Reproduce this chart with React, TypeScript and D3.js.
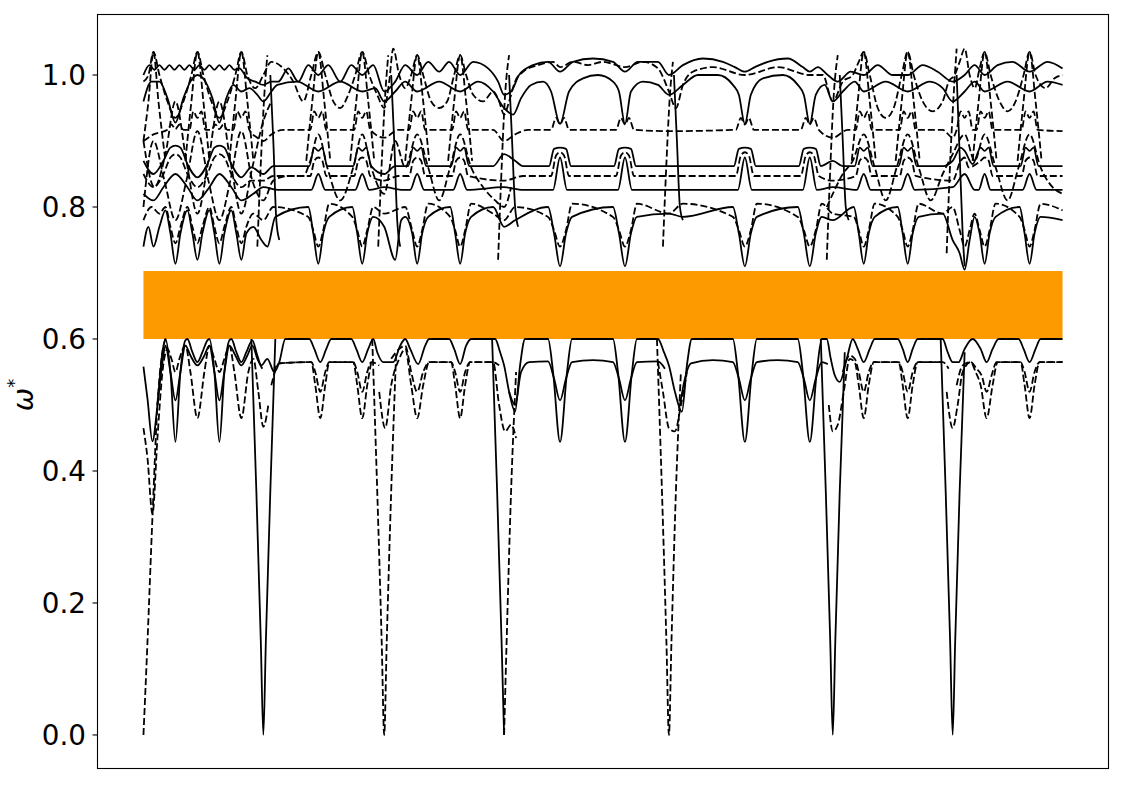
import React from 'react';
import * as d3 from 'd3';

type P = [number, number];

const yTicks = [0, 0.2, 0.4, 0.6, 0.8, 1.0];
const gapBand: [number, number] = [0.6, 0.703];
const pathRange: [number, number] = [0, 920];

// ---------- lower branches ----------
const lowTop: P[] = [
  [0,0.558],[4,0.51],[9,0.445],[14,0.5],[19,0.58],[22,0.6],[27,0.55],[32,0.444],[37,0.55],[42,0.598],[44,0.6],[49,0.58],[54,0.565],[59,0.58],[64,0.598],[66,0.6],[71,0.55],[76,0.444],[81,0.55],[86,0.598],[88,0.6],[93,0.58],[98,0.565],[103,0.58],[109,0.598],[114,0.575],[118,0.56],[124,0.57],[131,0.55],[136,0.565],[142,0.6],[166,0.6],[171,0.585],[177,0.565],[183,0.585],[188,0.6],[208,0.6],[213,0.585],[219,0.565],[225,0.585],[230,0.6],[234,0.58],[240,0.565],[250,0.565],[257,0.59],[262,0.6],[267,0.585],[275,0.562],[282,0.59],[286,0.6],[306,0.6],[311,0.585],[317,0.562],[323,0.59],[328,0.6],[352,0.6],[357,0.58],[361,0.56],[366,0.52],[372,0.49],[377,0.56],[382,0.6],[405,0.6],[410,0.55],[417,0.444],[424,0.55],[429,0.6],[470,0.6],[475,0.55],[482,0.444],[489,0.55],[494,0.6],[515,0.6],[521,0.58],[526,0.56],[532,0.52],[539,0.49],[544,0.56],[549,0.6],[590,0.6],[595,0.55],[602,0.444],[609,0.55],[614,0.6],[655,0.6],[660,0.55],[667,0.444],[674,0.55],[679,0.6],[684,0.6],[688,0.57],[692,0.545],[697,0.535],[704,0.57],[710,0.6],[715,0.585],[721,0.565],[727,0.585],[732,0.6],[755,0.6],[760,0.585],[765,0.565],[770,0.585],[775,0.6],[800,0.6],[805,0.58],[810,0.565],[816,0.565],[822,0.585],[830,0.6],[838,0.585],[844,0.565],[850,0.585],[856,0.6],[876,0.6],[881,0.585],[887,0.565],[893,0.585],[898,0.6],[920,0.6]
];

const lowMidSolid: P[][] = [
  [[14,0.5],[19,0.565],[22,0.59],[27,0.55],[32,0.507],[37,0.55],[42,0.59],[47,0.575],[54,0.56],[61,0.575],[66,0.59],[71,0.55],[76,0.507],[81,0.55],[86,0.59],[92,0.575],[98,0.56],[104,0.575],[109,0.59],[114,0.57],[119,0.555]],
  [[366,0.52],[372,0.5],[378,0.55],[386,0.565],[405,0.566],[411,0.54],[417,0.507],[423,0.54],[429,0.565],[450,0.568],[470,0.565],[476,0.54],[482,0.507],[488,0.54],[494,0.565],[515,0.566],[522,0.555]],
  [[537,0.5],[542,0.54],[548,0.563],[570,0.568],[590,0.565],[596,0.54],[602,0.507],[608,0.54],[614,0.565],[635,0.568],[655,0.565],[661,0.54],[667,0.507],[673,0.54],[679,0.565],[685,0.562]]
];

const lowMidDashed: P[][] = [
  [[130,0.55],[136,0.563],[168,0.565],[172,0.55],[177,0.52],[182,0.55],[186,0.565],[210,0.565],[214,0.55],[219,0.52],[224,0.55],[228,0.565],[236,0.56]],
  [[248,0.57],[256,0.585],[262,0.59],[268,0.55],[274,0.52],[280,0.55],[286,0.565],[308,0.565],[312,0.55],[317,0.52],[322,0.55],[327,0.565],[350,0.565],[356,0.56]],
  [[700,0.55],[707,0.575],[712,0.57],[716,0.55],[721,0.52],[726,0.55],[731,0.565],[756,0.565],[760,0.55],[765,0.52],[770,0.55],[775,0.565],[800,0.565],[806,0.555]],
  [[814,0.53],[820,0.56],[828,0.565],[834,0.555],[839,0.545],[844,0.52],[849,0.545],[854,0.565],[878,0.565],[882,0.55],[887,0.52],[892,0.55],[897,0.565],[920,0.565]]
];

const lowDeepDashed: P[][] = [
  [[0,0.465],[4,0.42],[9,0.335],[14,0.45],[19,0.55],[24,0.585],[28,0.57],[32,0.55],[36,0.57],[42,0.59],[47,0.55],[54,0.48],[61,0.55],[66,0.59],[71,0.57],[76,0.55],[81,0.57],[86,0.59],[91,0.55],[98,0.48],[105,0.55],[110,0.57],[115,0.52],[120,0.467],[125,0.5]],
  [[128,0.53],[136,0.563],[168,0.565],[172,0.53],[177,0.48],[182,0.53],[186,0.565],[210,0.565],[214,0.53],[219,0.48],[224,0.53],[228,0.565]],
  [[236,0.52],[242,0.465],[248,0.53],[256,0.57],[262,0.585],[268,0.53],[274,0.48],[280,0.53],[286,0.565],[308,0.565],[312,0.53],[317,0.48],[322,0.53],[327,0.565],[350,0.565],[356,0.5],[362,0.46],[368,0.47],[373,0.45]],
  [[515,0.565],[520,0.52],[526,0.465],[532,0.46],[538,0.5],[544,0.55]],
  [[686,0.5],[690,0.46],[695,0.47],[701,0.52],[707,0.57],[712,0.565],[716,0.53],[721,0.48],[726,0.53],[731,0.565],[756,0.565],[760,0.53],[765,0.48],[770,0.53],[775,0.565],[800,0.565]],
  [[804,0.52],[810,0.465],[815,0.5],[820,0.55],[828,0.565],[833,0.55],[838,0.53],[844,0.48],[850,0.53],[855,0.565],[878,0.565],[882,0.53],[887,0.48],[892,0.53],[897,0.565],[920,0.565]]
];

const acousticSolid: P[][] = [
  [[108,0.6],[113,0.37],[117.5,0.14],[120,0],[122.5,0.14],[127,0.37],[132,0.6]],
  [[349,0.6],[354,0.37],[358.5,0.14],[361,0]],
  [[678,0.6],[683,0.37],[687.5,0.14],[690,0],[692.5,0.14],[697,0.37],[702,0.58]],
  [[798,0.6],[803,0.37],[807.5,0.14],[810,0],[812.5,0.14],[817,0.37],[822,0.58]]
];

const acousticDashed: P[][] = [
  [[0,0],[4,0.14],[9,0.33],[14,0.5],[19,0.58],[22,0.6]],
  [[229,0.6],[234,0.37],[238.5,0.14],[241,0],[243.5,0.14],[248,0.37],[253,0.58]],
  [[361,0],[363.5,0.14],[368,0.37],[373,0.55]],
  [[514,0.6],[519,0.37],[523.5,0.14],[526,0],[528.5,0.14],[533,0.37],[538,0.55]]
];

// ---------- upper branches ----------
const upTop: P[] = [
  [0,1.0],[6,1.015],[11,1.008],[16,1.015],[21,1.008],[26,1.015],[31,1.008],[36,1.015],[41,1.008],[46,1.015],[51,1.008],[56,1.015],[61,1.008],[66,1.015],[71,1.008],[76,1.015],[81,1.008],[86,1.015],[91,1.008],[96,1.01],[104,0.995],[112,0.99],[120,0.985],[128,0.99],[135,0.99],[145,1.01],[155,0.99],[165,1.015],[175,1.0],[185,1.015],[197,0.99],[208,1.015],[219,1.0],[230,1.015],[241,0.975],[252,0.99],[262,1.015],[274,1.0],[285,1.02],[296,1.005],[306,1.02],[317,1.0],[330,1.02],[345,1.01],[355,0.99],[361,0.97],[368,0.975],[376,1.0],[390,1.015],[405,1.02],[417,1.005],[430,1.02],[450,1.025],[470,1.02],[482,1.005],[495,1.02],[515,1.02],[526,1.0],[540,1.015],[560,1.025],[580,1.02],[592,1.012],[602,1.005],[612,1.012],[625,1.02],[645,1.025],[660,1.012],[667,1.005],[675,1.012],[685,1.0],[695,0.99],[708,1.005],[721,1.0],[735,1.015],[750,1.0],[765,1.0],[780,1.015],[795,1.005],[810,0.99],[822,1.0],[832,1.015],[842,1.0],[855,1.015],[870,1.02],[887,1.005],[905,1.02],[920,1.01]
];

const upArch: P[] = [
  [0,0.96],[8,0.99],[16,0.99],[24,0.965],[32,0.928],[40,0.965],[47,0.99],[54,1.0],[62,0.99],[69,0.965],[76,0.928],[83,0.965],[90,0.985],[98,0.975],[106,0.98],[114,0.97],[120,0.96],[128,0.975],[134,0.985],[154,0.99],[175,0.975],[197,0.99],[219,0.975],[232,0.98],[241,0.96],[252,0.975],[262,0.99],[274,0.975],[296,0.99],[317,0.975],[335,0.99],[350,0.975],[361,0.95],[370,0.94],[378,0.965],[388,0.985],[400,0.99],[408,0.975],[417,0.926],[426,0.975],[440,0.995],[455,1.0],[470,0.99],[476,0.975],[482,0.926],[488,0.975],[500,0.99],[515,0.985],[526,0.97],[540,0.985],[555,1.0],[575,1.0],[590,0.985],[596,0.97],[602,0.926],[608,0.97],[620,0.995],[640,1.0],[655,0.985],[661,0.97],[667,0.926],[673,0.97],[682,0.985],[690,0.96],[700,0.975],[712,0.99],[721,0.975],[743,0.99],[765,0.975],[787,0.99],[800,0.98],[810,0.96],[822,0.975],[832,0.99],[842,0.975],[865,0.99],[887,0.975],[905,0.99],[920,0.985]
];

const upPeaks: P[] = [
  [0,0.99],[5,1.0],[10,1.035],[16,1.0],[24,0.96],[32,0.935],[40,0.96],[48,1.0],[54,1.035],[60,1.0],[68,0.96],[76,0.935],[84,0.96],[92,1.0],[98,1.035],[104,1.0],[112,0.98],[120,1.0],[128,1.02],[140,1.01],[150,0.99],[160,0.96],[168,1.0],[175,1.035],[182,1.0],[190,0.96],[197,0.95],[205,0.97],[212,1.0],[219,1.035],[226,1.0],[234,0.97],[241,0.95],[246,0.99],[250,1.04],[256,1.0],[262,0.98],[268,1.0],[274,1.03],[280,1.0],[288,0.96],[296,0.95],[304,0.96],[311,1.0],[317,1.03],[323,1.0],[330,0.97],[340,0.96],[350,0.975],[356,0.96],[361,0.94],[366,0.96],[372,0.99],[380,1.005],[395,1.015],[410,1.02],[417,1.012],[430,1.02],[445,1.015],[460,1.02],[482,1.012],[500,1.02],[515,1.01],[526,0.975],[533,0.95],[540,0.985],[550,1.005],[570,1.012],[602,1.0],[635,1.012],[667,1.0],[680,1.0],[690,0.96],[700,0.99],[710,1.0],[716,1.02],[721,1.035],[727,1.0],[735,0.95],[743,0.935],[751,0.95],[759,1.0],[765,1.035],[771,1.0],[780,0.96],[790,0.945],[800,0.96],[806,0.99],[812,1.0],[817,1.02],[822,1.04],[827,1.0],[832,0.98],[837,1.01],[842,1.035],[848,1.0],[857,0.96],[865,0.945],[873,0.96],[881,1.0],[887,1.035],[893,1.0],[903,0.98],[912,0.995],[920,1.0]
];

const upSpikes: P[][] = [
  [[0,0.9],[5,0.96],[10,1.035],[15,0.96],[22,0.87]],
  [[42,0.87],[48,0.96],[54,1.035],[60,0.96],[66,0.87]],
  [[86,0.87],[92,0.96],[98,1.035],[104,0.96],[110,0.87]],
  [[163,0.87],[169,0.96],[175,1.035],[181,0.96],[187,0.87]],
  [[207,0.87],[213,0.96],[219,1.035],[225,0.96],[231,0.87]],
  [[262,0.87],[268,0.96],[274,1.03],[280,0.96],[286,0.87]],
  [[305,0.87],[311,0.96],[317,1.03],[323,0.96],[329,0.87]],
  [[709,0.87],[715,0.96],[721,1.035],[727,0.96],[733,0.87]],
  [[753,0.87],[759,0.96],[765,1.035],[771,0.96],[777,0.87]],
  [[830,0.87],[836,0.96],[842,1.035],[848,0.96],[854,0.87]],
  [[875,0.87],[881,0.96],[887,1.035],[893,0.96],[899,0.87]]
];

const upFlat917: P[] = [
  [0,0.9],[10,0.91],[24,0.917],[28,0.925],[32,0.918],[36,0.925],[40,0.917],[46,0.917],[50,0.945],[54,0.935],[58,0.945],[62,0.917],[68,0.917],[72,0.925],[76,0.918],[80,0.925],[84,0.917],[90,0.917],[94,0.945],[98,0.935],[102,0.945],[106,0.917],[114,0.905],[120,0.9],[128,0.91],[140,0.917],[167,0.917],[171,0.945],[175,0.935],[179,0.945],[183,0.917],[211,0.917],[215,0.945],[219,0.935],[223,0.945],[227,0.917],[241,0.905],[255,0.917],[266,0.917],[270,0.945],[274,0.935],[278,0.945],[282,0.917],[309,0.917],[313,0.945],[317,0.935],[321,0.945],[325,0.917],[350,0.917],[361,0.9],[372,0.91],[385,0.917],[408,0.917],[413,0.935],[417,0.925],[421,0.935],[426,0.917],[473,0.917],[478,0.935],[482,0.925],[486,0.935],[491,0.917],[526,0.915],[593,0.917],[598,0.935],[602,0.925],[606,0.935],[611,0.917],[658,0.917],[663,0.935],[667,0.925],[671,0.935],[676,0.917],[690,0.905],[705,0.917],[713,0.917],[717,0.945],[721,0.935],[725,0.945],[729,0.917],[757,0.917],[761,0.945],[765,0.935],[769,0.945],[773,0.917],[800,0.917],[810,0.905],[814,0.917],[818,0.945],[822,0.935],[826,0.945],[830,0.917],[834,0.917],[838,0.945],[842,0.935],[846,0.945],[850,0.917],[879,0.917],[883,0.945],[887,0.935],[891,0.945],[895,0.917],[920,0.915]
];

const upFlat862: P[] = [
  [0,0.87],[10,0.85],[20,0.87],[27,0.89],[32,0.893],[37,0.89],[44,0.865],[54,0.845],[64,0.865],[71,0.89],[76,0.893],[81,0.89],[88,0.865],[98,0.845],[108,0.86],[120,0.85],[130,0.862],[166,0.862],[171,0.89],[175,0.885],[179,0.89],[184,0.862],[210,0.862],[215,0.89],[219,0.885],[223,0.89],[228,0.862],[241,0.85],[252,0.862],[265,0.862],[270,0.89],[274,0.885],[278,0.89],[283,0.862],[308,0.862],[313,0.89],[317,0.885],[321,0.89],[326,0.862],[350,0.862],[361,0.88],[372,0.87],[380,0.862],[406,0.862],[411,0.888],[417,0.89],[423,0.888],[428,0.862],[471,0.862],[476,0.888],[482,0.89],[488,0.888],[493,0.862],[526,0.862],[591,0.862],[596,0.888],[602,0.89],[608,0.888],[613,0.862],[656,0.862],[661,0.888],[667,0.89],[673,0.888],[678,0.862],[690,0.87],[700,0.862],[712,0.862],[717,0.89],[721,0.885],[725,0.89],[730,0.862],[756,0.862],[761,0.89],[765,0.885],[769,0.89],[774,0.862],[800,0.862],[810,0.87],[818,0.89],[822,0.885],[830,0.865],[838,0.89],[842,0.885],[846,0.89],[851,0.862],[878,0.862],[883,0.89],[887,0.885],[891,0.89],[896,0.862],[920,0.862]
];

const upFlat847: P[] = [
  [0,0.85],[10,0.83],[20,0.85],[27,0.875],[32,0.88],[37,0.875],[44,0.85],[54,0.83],[64,0.85],[71,0.875],[76,0.88],[81,0.875],[88,0.85],[98,0.83],[108,0.84],[120,0.84],[130,0.847],[167,0.847],[171,0.87],[175,0.875],[179,0.87],[183,0.847],[211,0.847],[215,0.87],[219,0.875],[223,0.87],[227,0.847],[241,0.84],[255,0.847],[266,0.847],[270,0.87],[274,0.875],[278,0.87],[282,0.847],[309,0.847],[313,0.87],[317,0.875],[321,0.87],[325,0.847],[361,0.84],[380,0.847],[408,0.847],[413,0.878],[417,0.883],[421,0.878],[426,0.847],[473,0.847],[478,0.878],[482,0.883],[486,0.878],[491,0.847],[593,0.847],[598,0.878],[602,0.883],[606,0.878],[611,0.847],[658,0.847],[663,0.878],[667,0.883],[671,0.878],[676,0.847],[690,0.84],[713,0.847],[717,0.87],[721,0.875],[725,0.87],[729,0.847],[757,0.847],[761,0.87],[765,0.875],[769,0.87],[773,0.847],[810,0.84],[818,0.87],[822,0.875],[826,0.86],[838,0.87],[842,0.875],[846,0.87],[850,0.847],[879,0.847],[883,0.87],[887,0.875],[891,0.87],[895,0.847],[920,0.847]
];

const upFlat826: P[] = [
  [0,0.82],[10,0.81],[20,0.83],[32,0.85],[44,0.83],[54,0.81],[66,0.83],[76,0.85],[88,0.83],[98,0.81],[110,0.82],[120,0.83],[135,0.826],[168,0.826],[175,0.85],[182,0.826],[212,0.826],[219,0.85],[226,0.826],[241,0.83],[260,0.826],[267,0.826],[274,0.85],[281,0.826],[310,0.826],[317,0.85],[324,0.826],[361,0.83],[380,0.826],[410,0.826],[417,0.875],[424,0.826],[475,0.826],[482,0.875],[489,0.826],[526,0.826],[595,0.826],[602,0.875],[609,0.826],[660,0.826],[667,0.875],[674,0.826],[690,0.83],[714,0.826],[721,0.85],[728,0.826],[758,0.826],[765,0.85],[772,0.826],[810,0.83],[822,0.85],[832,0.826],[836,0.826],[842,0.85],[848,0.826],[880,0.826],[887,0.85],[894,0.826],[920,0.826]
];

const upCrossDashed: P[] = [
  [0,0.78],[8,0.8],[16,0.79],[22,0.8],[27,0.77],[32,0.745],[37,0.77],[44,0.8],[49,0.77],[54,0.745],[59,0.77],[66,0.8],[71,0.77],[76,0.745],[81,0.77],[88,0.8],[93,0.77],[98,0.745],[103,0.77],[110,0.79],[120,0.78],[130,0.8],[165,0.785],[170,0.765],[175,0.74],[180,0.765],[186,0.805],[209,0.785],[214,0.765],[219,0.74],[224,0.765],[230,0.8],[241,0.79],[262,0.8],[269,0.765],[274,0.74],[279,0.765],[285,0.805],[307,0.785],[312,0.765],[317,0.74],[322,0.765],[328,0.805],[350,0.79],[361,0.78],[372,0.8],[405,0.785],[411,0.765],[417,0.74],[423,0.765],[429,0.805],[470,0.785],[476,0.765],[482,0.74],[488,0.765],[494,0.805],[526,0.79],[540,0.805],[590,0.785],[596,0.765],[602,0.74],[608,0.765],[614,0.805],[655,0.785],[661,0.765],[667,0.74],[673,0.765],[679,0.805],[690,0.79],[711,0.785],[716,0.765],[721,0.74],[726,0.765],[732,0.805],[755,0.785],[760,0.765],[765,0.74],[770,0.765],[776,0.805],[800,0.79],[810,0.8],[817,0.765],[822,0.74],[827,0.765],[832,0.79],[837,0.765],[842,0.74],[847,0.765],[853,0.805],[877,0.785],[882,0.765],[887,0.74],[892,0.765],[898,0.805],[920,0.795]
];

const upCrossSolid: P[] = [
  [0,0.74],[5,0.77],[10,0.74],[16,0.77],[22,0.795],[27,0.76],[32,0.714],[37,0.76],[44,0.795],[49,0.76],[54,0.72],[59,0.76],[66,0.795],[71,0.76],[76,0.714],[81,0.76],[88,0.795],[93,0.76],[98,0.72],[103,0.76],[110,0.77],[118,0.75],[124,0.74],[132,0.785],[165,0.8],[170,0.76],[175,0.714],[180,0.76],[186,0.785],[209,0.8],[214,0.76],[219,0.714],[224,0.76],[230,0.785],[241,0.77],[252,0.72],[258,0.78],[262,0.785],[269,0.76],[274,0.714],[279,0.76],[285,0.785],[307,0.8],[312,0.76],[317,0.714],[322,0.76],[328,0.785],[350,0.8],[361,0.77],[372,0.78],[405,0.8],[411,0.76],[417,0.71],[423,0.76],[429,0.785],[470,0.8],[476,0.76],[482,0.71],[488,0.76],[494,0.785],[526,0.79],[540,0.785],[590,0.8],[596,0.76],[602,0.71],[608,0.76],[614,0.785],[655,0.8],[661,0.76],[667,0.71],[673,0.76],[679,0.785],[690,0.78],[711,0.8],[716,0.76],[721,0.714],[726,0.76],[732,0.785],[755,0.8],[760,0.76],[765,0.714],[770,0.76],[776,0.785],[800,0.79],[810,0.75],[817,0.73],[822,0.705],[827,0.75],[832,0.785],[837,0.76],[842,0.714],[847,0.76],[853,0.785],[877,0.8],[882,0.76],[887,0.714],[892,0.76],[898,0.785],[920,0.78]
];

const upZigA: P[][] = [
  [[0,0.8],[10,0.9],[21,0.84],[32,0.78],[43,0.84],[54,0.915],[65,0.84],[76,0.78],[87,0.84],[98,0.915],[109,0.84],[120,0.81],[130,0.84],[145,0.847],[160,0.847],[167,0.87],[175,0.91],[184,0.86],[197,0.81],[210,0.86],[219,0.91],[228,0.86],[241,0.82],[252,0.9],[262,0.86],[274,0.91],[285,0.86],[296,0.81],[307,0.86],[317,0.91],[328,0.86],[340,0.83],[352,0.81],[361,0.8],[368,0.83]],
  [[684,0.8],[690,0.82],[700,0.85],[710,0.87],[721,0.91],[732,0.86],[743,0.81],[754,0.86],[765,0.91],[776,0.86],[788,0.81],[800,0.85],[810,0.88],[822,0.91],[832,0.87],[842,0.91],[853,0.86],[865,0.81],[876,0.86],[887,0.91],[898,0.86],[910,0.83],[920,0.82]]
];

const upZigB: P[] = [
  [0,0.9],[11,0.83],[22,0.88],[32,0.96],[43,0.87],[54,0.79],[65,0.87],[76,0.96],[87,0.87],[98,0.79],[109,0.86],[120,0.93],[128,0.96]
];

const steepDashed: P[][] = [
  [[114,0.74],[117,0.85],[121,0.97],[124,1.03]],
  [[235,0.74],[238,0.85],[242,0.97],[245,1.03]],
  [[355,0.72],[358,0.84],[362,0.97],[366,1.03]],
  [[520,0.74],[523,0.85],[527,0.97],[530,1.02]],
  [[684,0.72],[687,0.84],[691,0.97],[695,1.03]],
  [[804,0.73],[807,0.85],[811,0.97],[814,1.04]]
];

const steepSolid: P[][] = [
  [[127,1.0],[130,0.9],[133,0.78],[136,0.75]],
  [[248,1.0],[251,0.9],[254,0.78],[257,0.74]],
  [[366,1.0],[369,0.9],[372,0.8],[375,0.77]],
  [[531,1.0],[534,0.9],[537,0.8],[540,0.78]],
  [[697,1.0],[700,0.9],[703,0.8],[706,0.78]],
  [[814,1.0],[817,0.88],[820,0.76],[822,0.71]]
];

type Series = { segs: P[][]; dashed: boolean };

const allSeries: Series[] = [
  { segs: [lowTop], dashed: false },
  { segs: lowMidSolid, dashed: false },
  { segs: lowMidDashed, dashed: true },
  { segs: lowDeepDashed, dashed: true },
  { segs: acousticSolid, dashed: false },
  { segs: acousticDashed, dashed: true },
  { segs: [upTop], dashed: false },
  { segs: [upArch], dashed: false },
  { segs: [upPeaks], dashed: true },
  { segs: upSpikes, dashed: true },
  { segs: [upFlat917], dashed: true },
  { segs: [upFlat862], dashed: false },
  { segs: [upFlat847], dashed: true },
  { segs: [upFlat826], dashed: false },
  { segs: [upCrossDashed], dashed: true },
  { segs: [upCrossSolid], dashed: false },
  { segs: upZigA, dashed: true },
  { segs: [upZigB], dashed: true },
  { segs: steepDashed, dashed: true },
  { segs: steepSolid, dashed: false },
];

const W = 1125;
const H = 785;
const left = 97.5, right = 1108.5, top = 14.5, bottom = 768.5;

export default function App() {
  const span = pathRange[1] - pathRange[0];
  const x = d3.scaleLinear().domain([pathRange[0] - 0.05 * span, pathRange[1] + 0.05 * span]).range([left, right]);
  const y = d3.scaleLinear().domain([-0.0508, 1.0917]).range([bottom, top]);
  const line = d3.line<P>().x(d => x(d[0])).y(d => y(d[1])).curve(d3.curveMonotoneX);
  const font = "'DejaVu Sans', sans-serif";

  return (
    <svg width={W} height={H} style={{ position: 'absolute', left: 0, top: 0, background: '#fff' }}>
      <defs>
        <clipPath id="plotclip">
          <rect x={left} y={top} width={right - left} height={bottom - top} />
        </clipPath>
      </defs>
      <rect x={0} y={0} width={W} height={H} fill="#fff" />
      <rect
        x={x(pathRange[0])}
        y={y(gapBand[1])}
        width={x(pathRange[1]) - x(pathRange[0])}
        height={y(gapBand[0]) - y(gapBand[1])}
        fill="#fd9a00"
      />
      <g clipPath="url(#plotclip)" fill="none" stroke="#000" strokeWidth={1.8} strokeLinejoin="round">
        {allSeries.map((s, i) =>
          s.segs.map((seg, j) => (
            <path
              key={`${i}-${j}`}
              d={line(seg) || ''}
              strokeDasharray={s.dashed ? '7,3' : undefined}
            />
          ))
        )}
      </g>
      <rect x={left} y={top} width={right - left} height={bottom - top} fill="none" stroke="#000" strokeWidth={1.1} />
      {yTicks.map(t => (
        <g key={t}>
          <line x1={left - 5} x2={left} y1={y(t)} y2={y(t)} stroke="#000" strokeWidth={1.1} />
          <text x={left - 11.5} y={y(t)} dy="0.35em" textAnchor="end" fontFamily={font} fontSize={27.8} fill="#000">
            {t.toFixed(1)}
          </text>
        </g>
      ))}
      <text transform={`translate(33, 395) rotate(-90)`} textAnchor="middle" fontFamily={font} fontSize={27.8} fill="#000">
        <tspan fontStyle="italic">ω</tspan>
        <tspan fontSize={18} dy={-13}>*</tspan>
      </text>
    </svg>
  );
}
